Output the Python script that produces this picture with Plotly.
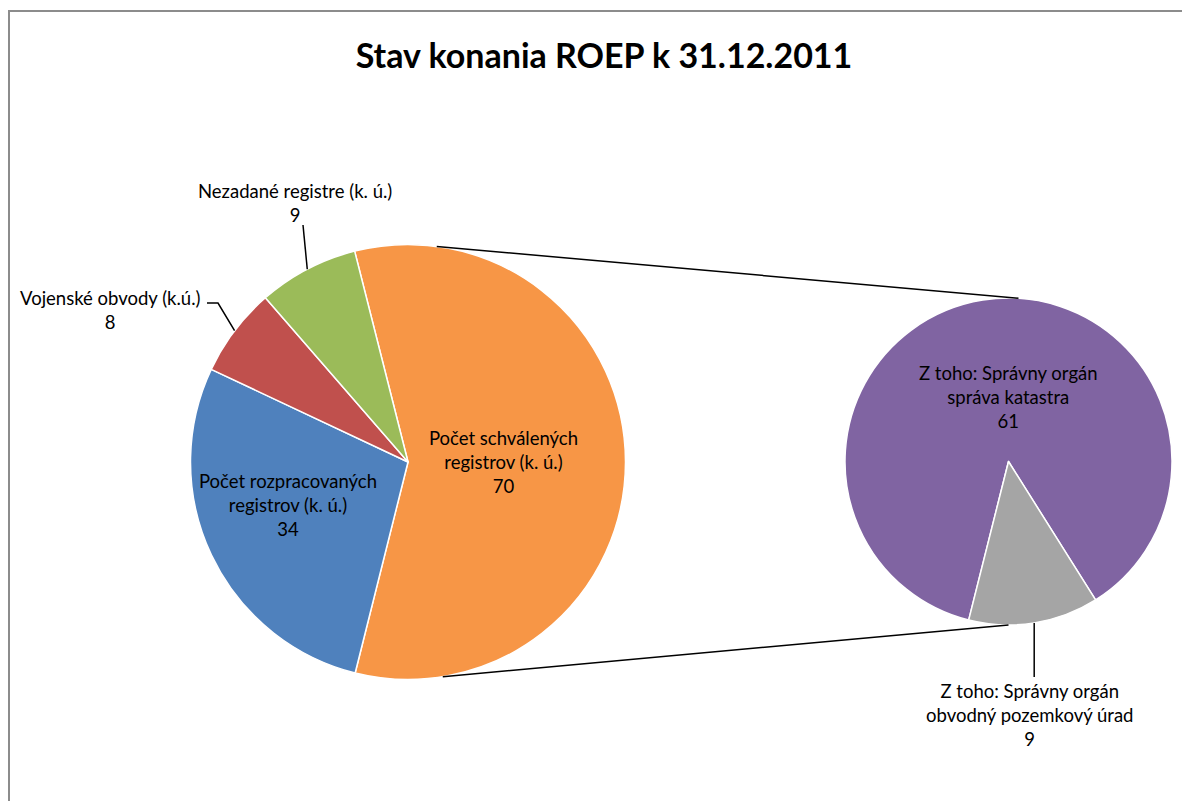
import math
import plotly.graph_objects as go

# main pie
main_labels = ['Počet schválených<br>registrov (k. ú.)', 'Počet rozpracovaných<br>registrov (k. ú.)',
               'Vojenské obvody (k.ú.)', 'Nezadané registre (k. ú.)']
main_values = [70, 34, 8, 9]
main_colors = ['#F79646', '#4F81BD', '#C0504D', '#9BBB59']

# secondary pie (split of the first slice)
sub_labels = ['Z toho: Správny orgán<br>správa katastra', 'Z toho: Správny orgán<br>obvodný pozemkový úrad']
sub_values = [61, 9]
sub_colors = ['#8064A2', '#A5A5A5']

title = 'Stav konania ROEP k 31.12.2011'

W, H = 1190, 801
OFF = 8  # page body margin
FONT = 'Lato'

# geometry in pixels (page coordinates)
c1, r1 = (408, 462), 217.5
c2, r2 = (1008.5, 461.5), 163.5
rot1 = -14.2
rot2 = 194.1 - 360


def px(x):
    return (x - OFF) / W


def py(y):
    return 1 - (y - OFF) / H


def dom(c, r):
    return dict(x=[px(c[0] - r), px(c[0] + r)], y=[py(c[1] + r), py(c[1] - r)])


def edge(c, r, ang):
    a = math.radians(ang)
    return c[0] + r * math.sin(a), c[1] - r * math.cos(a)


def mid_angle(values, i, rot):
    tot = sum(values)
    start = rot + 360 * sum(values[:i]) / tot
    return start + 180 * values[i] / tot


fig = go.Figure()
fig.add_trace(go.Pie(values=main_values, labels=main_labels, marker=dict(colors=main_colors, line=dict(color='white', width=1.5)),
                     sort=False, direction='clockwise', rotation=rot1, textinfo='none', hoverinfo='label+value',
                     domain=dom(c1, r1), showlegend=False))
fig.add_trace(go.Pie(values=sub_values, labels=sub_labels, marker=dict(colors=sub_colors, line=dict(color='white', width=1.5)),
                     sort=False, direction='clockwise', rotation=rot2, textinfo='none', hoverinfo='label+value',
                     domain=dom(c2, r2), showlegend=False))

shapes = []
# frame
shapes.append(dict(type='rect', xref='paper', yref='paper', x0=px(9), x1=px(1220), y0=py(830), y1=py(11),
                   line=dict(color='#8c8c8c', width=2)))

# connector lines between the pies
for a1, a2 in [(7.6, 3.5), (170.8, 180)]:
    x0, y0 = edge(c1, r1, a1)
    x1, y1 = edge(c2, r2, a2)
    shapes.append(dict(type='line', xref='paper', yref='paper', x0=px(x0), y0=py(y0), x1=px(x1), y1=py(y1),
                       line=dict(color='black', width=1.5)))

# leader lines for outside labels
# Vojenske obvody
ex, ey = edge(c1, r1, mid_angle(main_values, 2, rot1))
shapes.append(dict(type='path', xref='paper', yref='paper',
                   path=f'M {px(207)},{py(303)} L {px(218)},{py(303)} L {px(ex)},{py(ey)}',
                   line=dict(color='black', width=1.5)))
# Nezadane registre
ex, ey = edge(c1, r1, mid_angle(main_values, 3, rot1))
shapes.append(dict(type='line', xref='paper', yref='paper', x0=px(303), y0=py(225), x1=px(ex), y1=py(ey),
                   line=dict(color='black', width=1.5)))
# obvodny pozemkovy urad
ex, ey = edge(c2, r2, mid_angle(sub_values, 1, rot2))
shapes.append(dict(type='line', xref='paper', yref='paper', x0=px(ex), y0=py(ey), x1=px(ex), y1=py(677),
                   line=dict(color='black', width=1.5)))

# label positions (text block centres, px)
label_pos = [
    (main_labels[0], main_values[0], 503, 462),
    (main_labels[1], main_values[1], 288, 505),
    (main_labels[2], main_values[2], 110, 310),
    (main_labels[3], main_values[3], 295, 203),
    (sub_labels[0], sub_values[0], 1008, 397),
    (sub_labels[1], sub_values[1], 1030, 715),
]
annotations = []
for lab, val, x, y in label_pos:
    annotations.append(dict(text=f'{lab}<br>{val}', x=px(x), y=py(y), xref='paper', yref='paper',
                            xanchor='center', yanchor='middle', showarrow=False, align='center',
                            font=dict(family=FONT, size=18.5, color='black')))

fig.update_layout(
    title=dict(text=title, x=px(604), xanchor='center', y=py(56), yanchor='middle',
               font=dict(family=FONT, size=34, color='black', weight='bold')),
    width=W, height=H, margin=dict(l=0, r=0, t=0, b=0),
    paper_bgcolor='white', plot_bgcolor='white',
    shapes=shapes, annotations=annotations,
)
fig.write_html('out.html')
